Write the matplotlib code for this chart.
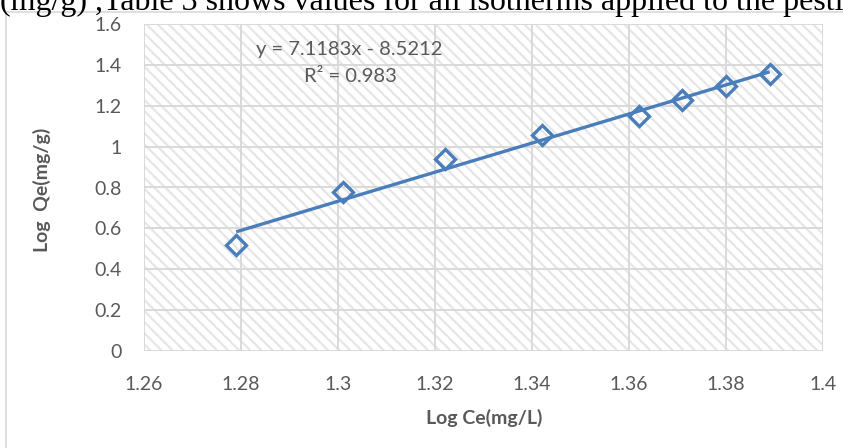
import matplotlib
matplotlib.use("Agg")
import matplotlib.pyplot as plt
from matplotlib.patches import Rectangle
import numpy as np

# Freundlich isotherm: log Ce vs log Qe
log_ce = [1.279, 1.301, 1.322, 1.342, 1.362, 1.371, 1.380, 1.389]
log_qe = [0.52, 0.776, 0.94, 1.057, 1.152, 1.230, 1.298, 1.357]
slope, intercept = 7.1183, -8.5212
r_squared = 0.983

x_ticks = [1.26, 1.28, 1.30, 1.32, 1.34, 1.36, 1.38, 1.40]
x_tick_labels = ["1.26", "1.28", "1.3", "1.32", "1.34", "1.36", "1.38", "1.4"]
y_ticks = [0, 0.2, 0.4, 0.6, 0.8, 1.0, 1.2, 1.4, 1.6]
y_tick_labels = ["0", "0.2", "0.4", "0.6", "0.8", "1", "1.2", "1.4", "1.6"]

W, H = 843, 448
fig = plt.figure(figsize=(W / 100, H / 100), dpi=100)
fig.patch.set_facecolor("white")

hatch_gray = "#e6e6e6"
plt.rcParams["hatch.color"] = hatch_gray
plt.rcParams["hatch.linewidth"] = 1.6

text_gray = "#595959"
grid_gray = "#d9d9d9"
blue = "#4a7ebb"
font = ["Lato", "DejaVu Sans"]
fs = 14

# chart frame
fig.add_artist(Rectangle((6 / W, -0.05), 1.0, 1 - 12 / H + 0.05,
                         transform=fig.transFigure, fill=False,
                         edgecolor=grid_gray, linewidth=1.2))

# body text line above the chart
fig.text(0 / W, 1 - 10 / H, "(mg/g) ,Table 3 shows values for all isotherms applied to the pesti",
         family=["Liberation Serif", "DejaVu Serif"], fontsize=23,
         color="black", ha="left", va="baseline")

left, right, top, bottom = 144 / W, 823 / W, 1 - 24 / H, 1 - 351 / H
ax = fig.add_axes([left, bottom, right - left, top - bottom])
ax.set_xlim(1.26, 1.40)
ax.set_ylim(0, 1.6)

ax.add_patch(Rectangle((0, 0), 1, 1, transform=ax.transAxes, facecolor="white",
                       hatch="\\\\\\", edgecolor=hatch_gray, linewidth=0, zorder=0))

ax.set_xticks(x_ticks)
ax.set_xticklabels(x_tick_labels)
ax.set_yticks(y_ticks)
ax.set_yticklabels(y_tick_labels)
ax.grid(True, color=grid_gray, linewidth=1.4, zorder=1)
ax.set_axisbelow(True)
for s in ax.spines.values():
    s.set_visible(False)
ax.tick_params(length=0, labelsize=fs, colors=text_gray)
ax.tick_params(axis="x", pad=18)
ax.tick_params(axis="y", pad=16)
for lab in ax.get_xticklabels() + ax.get_yticklabels():
    lab.set_family(font)

# linear trend line
xs = np.array([min(log_ce), max(log_ce)])
ax.plot(xs, slope * xs + intercept, color=blue, linewidth=2.4, zorder=3,
        solid_capstyle="butt")
ax.plot(log_ce, log_qe, linestyle="none", marker="D", markersize=10,
        markerfacecolor="none", markeredgecolor=blue, markeredgewidth=2.4, zorder=4)

fig.text(349 / W, 1 - 50 / H, f"y = {slope}x - {abs(intercept)}", family=font,
         fontsize=fs + 0.5, color=text_gray, ha="center", va="center")
fig.text(350 / W, 1 - 77 / H, f"R² = {r_squared}", family=font,
         fontsize=fs + 0.5, color=text_gray, ha="center", va="center")

fig.text(484 / W, 1 - 418 / H, "Log Ce(mg/L)", family=font, fontsize=fs,
         fontweight="bold", color=text_gray, ha="center", va="center")
fig.text(42 / W, 1 - 190 / H, "Log  Qe(mg/g)", family=font, fontsize=fs,
         fontweight="bold", color=text_gray, ha="center", va="center", rotation=90)

fig.savefig("out.png", dpi=100, facecolor="white")
